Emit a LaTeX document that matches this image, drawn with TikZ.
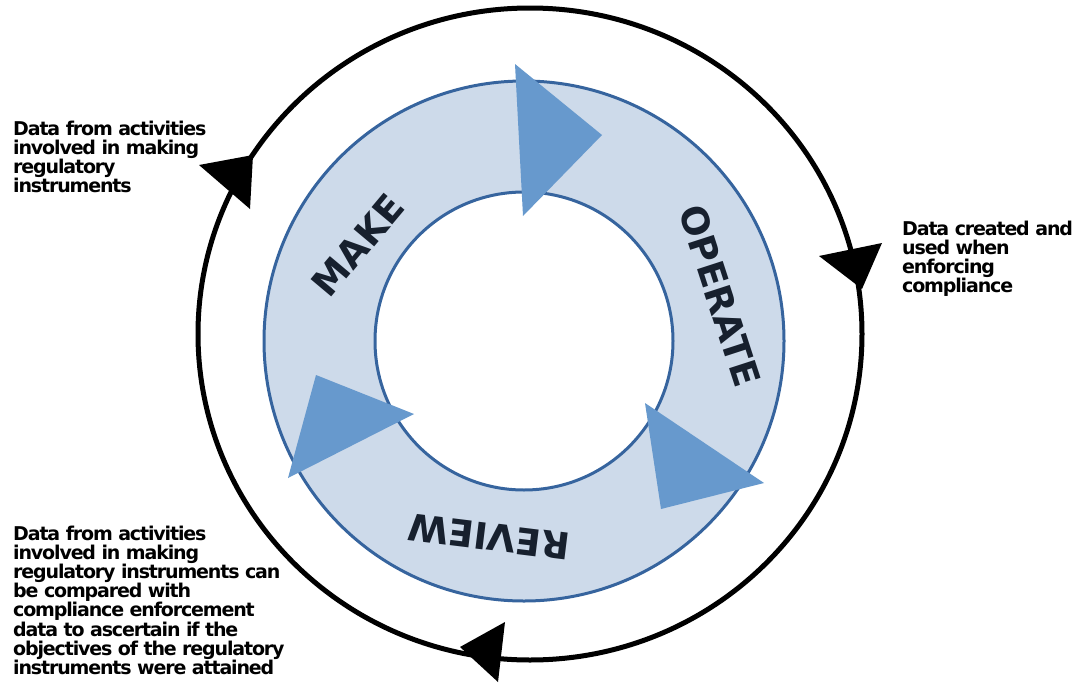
\documentclass[tikz,border=0pt]{standalone}
\usepackage{fontspec}
\newfontfamily\notefont[LetterSpace=-6]{DejaVu Sans}
\newfontfamily\phasefont{DejaVu Sans}
\definecolor{ringfill}{RGB}{205,218,234}
\definecolor{ringline}{RGB}{54,100,158}
\definecolor{flowfill}{RGB}{103,153,205}
\definecolor{phasetext}{RGB}{23,32,46}
\begin{document}
\begin{tikzpicture}[x=1pt,y=-1pt,
  note/.style={font=\notefont\bfseries\fontsize{19}{19.2}\selectfont,
    align=left, anchor=base west, inner sep=0pt},
  phase/.style={font=\phasefont\bfseries\fontsize{37}{37}\selectfont,
    text=phasetext, inner sep=0pt},
  ring/.style={draw=ringline, line width=3pt},
  flowhead/.style={fill=flowfill},
  cyclehead/.style={fill=black}]
\useasboundingbox[fill=white] (0,0) rectangle (1080,683);

% outer data cycle
\draw[line width=5pt] (530,334) ellipse [x radius=332, y radius=326];
\fill[cyclehead] (199,165) -- (253,155) -- (250,209) -- cycle;
\fill[cyclehead] (819,256) -- (882,243) -- (862,289) -- cycle;
\fill[cyclehead] (505,622) -- (460,647) -- (498,682) -- cycle;

% inner process ring
\fill[ringfill, even odd rule] (524,341) circle [radius=260] (524,341) circle [radius=149];
\draw[ring] (524,341) circle [radius=260];
\draw[ring] (524,341) circle [radius=149];

% flow arrows on the ring
\fill[flowhead] (515,64) -- (602,135) -- (523,216) -- cycle;
\fill[flowhead] (645,403) -- (764,483) -- (661,509) -- cycle;
\fill[flowhead] (316,375) -- (414,414) -- (288,478) -- cycle;

% phase labels
\node[phase, rotate=50] (make) at (358,245) {MAKE};
\node[phase, rotate=-72] (operate) at (720,296) {OPERATE};
\node[phase, rotate=173] (review) at (489,537) {REVIEW};

% notes (anchored at the baseline of their last line)
\node[note] (makedata) at (13,192.6) {Data from activities\\involved in making\\regulatory\\instruments};
\node[note] (operatedata) at (902,292.6) {Data created and\\used when\\enforcing\\compliance};
\node[note] (reviewdata) at (13,674.4) {Data from activities\\involved in making\\regulatory instruments can\\be compared with\\compliance enforcement\\data to ascertain if the\\objectives of the regulatory\\instruments were attained};
\end{tikzpicture}
\end{document}
